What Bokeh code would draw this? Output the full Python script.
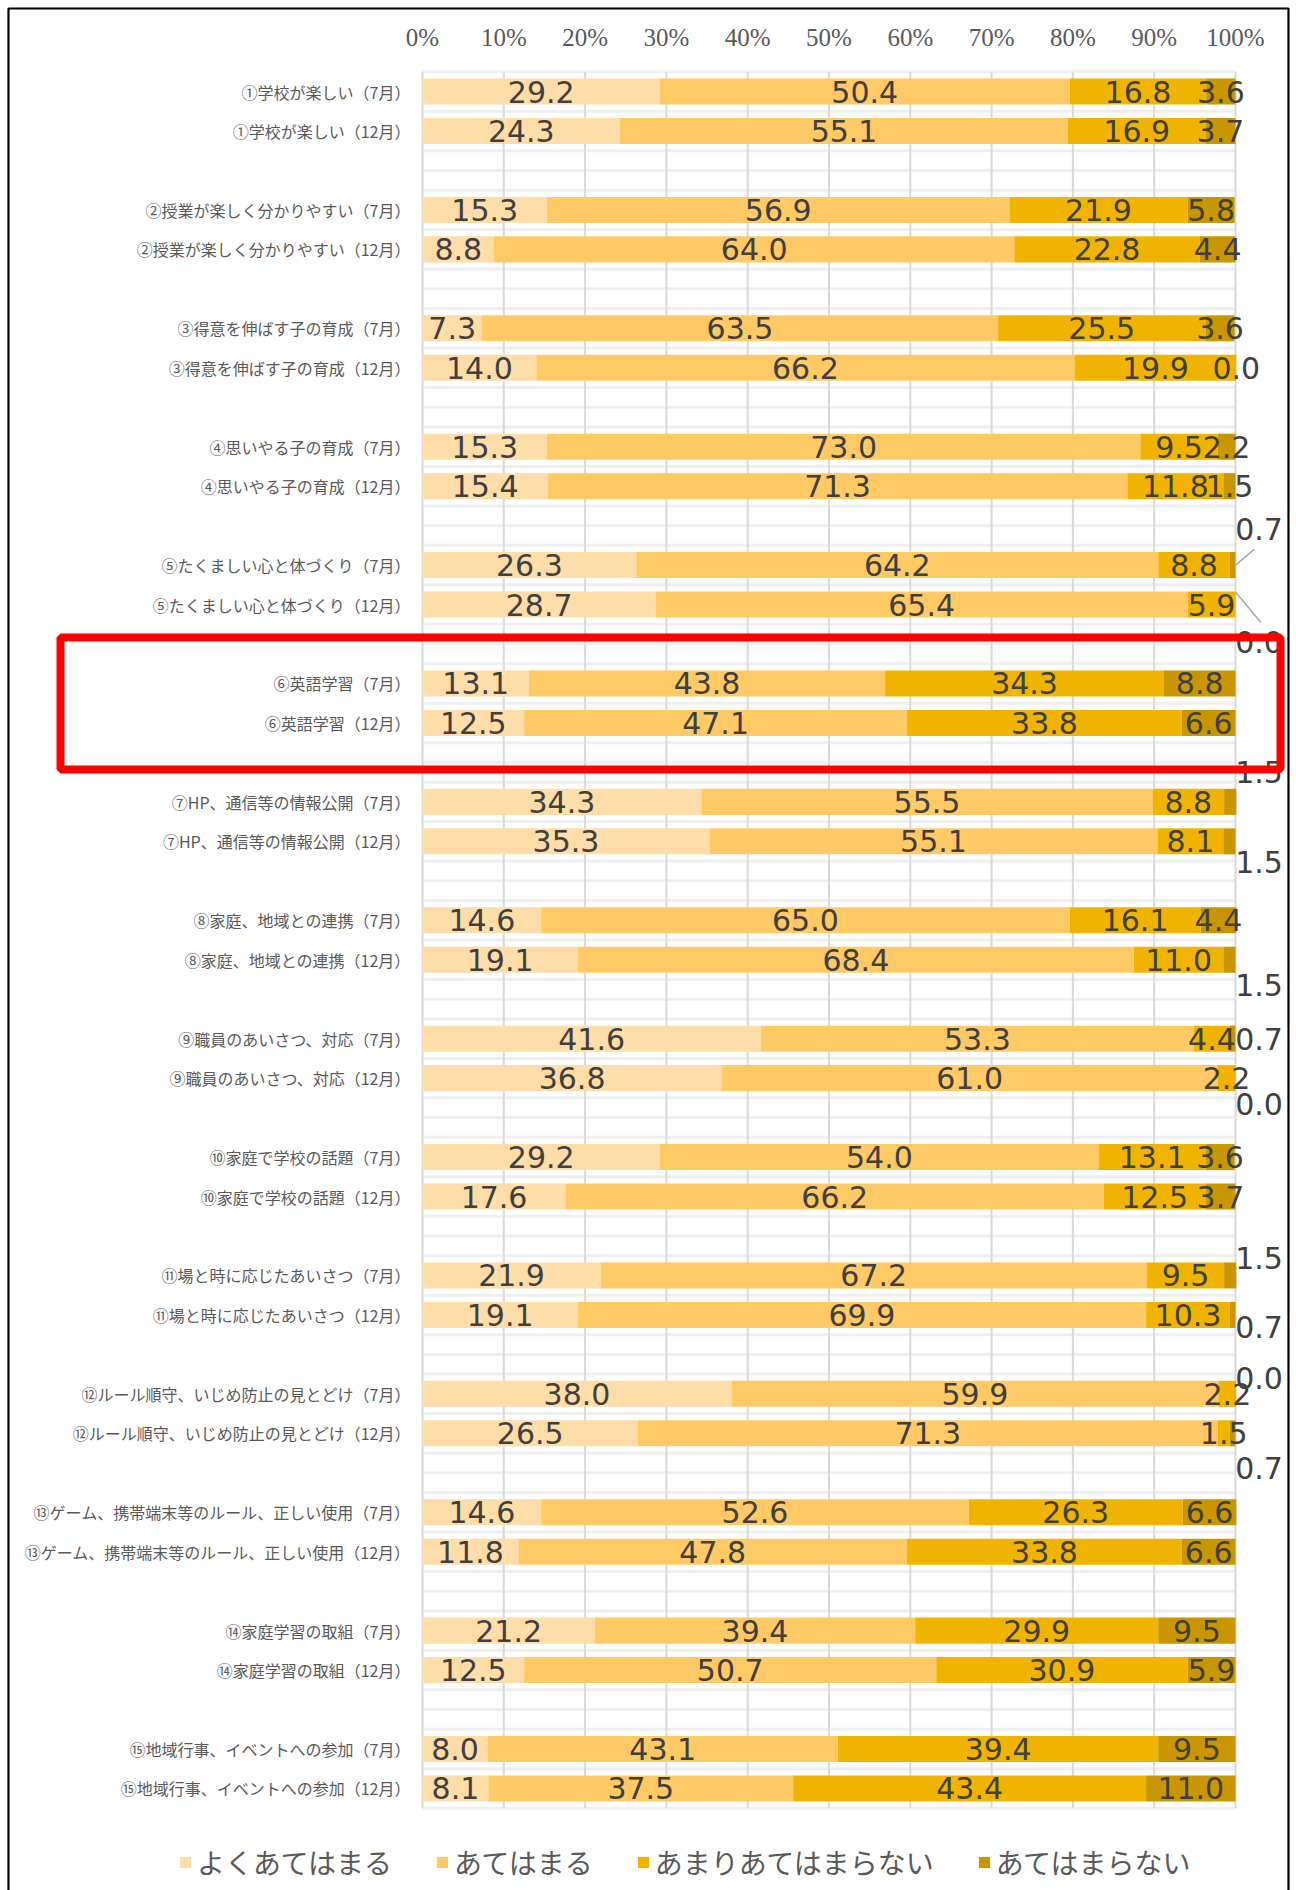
from bokeh.plotting import figure
from bokeh.models import ColumnDataSource, Range1d, Legend, LegendItem
from bokeh.core.properties import value
from bokeh.embed import file_html
from bokeh.resources import INLINE

# ---------------- data ----------------
items = ["①学校が楽しい", "②授業が楽しく分かりやすい", "③得意を伸ばす子の育成", "④思いやる子の育成",
         "⑤たくましい心と体づくり", "⑥英語学習", "⑦HP、通信等の情報公開", "⑧家庭、地域との連携",
         "⑨職員のあいさつ、対応", "⑩家庭で学校の話題", "⑪場と時に応じたあいさつ",
         "⑫ルール順守、いじめ防止の見とどけ", "⑬ゲーム、携帯端末等のルール、正しい使用",
         "⑭家庭学習の取組", "⑮地域行事、イベントへの参加"]
months = ["7月", "12月"]
series_names = ["よくあてはまる", "あてはまる", "あまりあてはまらない", "あてはまらない"]

yoku = [29.2, 24.3, 15.3, 8.8, 7.3, 14.0, 15.3, 15.4, 26.3, 28.7, 13.1, 12.5, 34.3, 35.3, 14.6,
        19.1, 41.6, 36.8, 29.2, 17.6, 21.9, 19.1, 38.0, 26.5, 14.6, 11.8, 21.2, 12.5, 8.0, 8.1]
ate = [50.4, 55.1, 56.9, 64.0, 63.5, 66.2, 73.0, 71.3, 64.2, 65.4, 43.8, 47.1, 55.5, 55.1, 65.0,
       68.4, 53.3, 61.0, 54.0, 66.2, 67.2, 69.9, 59.9, 71.3, 52.6, 47.8, 39.4, 50.7, 43.1, 37.5]
amari = [16.8, 16.9, 21.9, 22.8, 25.5, 19.9, 9.5, 11.8, 8.8, 5.9, 34.3, 33.8, 8.8, 8.1, 16.1,
         11.0, 4.4, 2.2, 13.1, 12.5, 9.5, 10.3, 2.2, 1.5, 26.3, 33.8, 29.9, 30.9, 39.4, 43.4]
nai = [3.6, 3.7, 5.8, 4.4, 3.6, 0.0, 2.2, 1.5, 0.7, 0.0, 8.8, 6.6, 1.5, 1.5, 4.4,
       1.5, 0.7, 0.0, 3.6, 3.7, 1.5, 0.7, 0.0, 0.7, 6.6, 6.6, 9.5, 5.9, 9.5, 11.0]

x_ticks = [0, 10, 20, 30, 40, 50, 60, 70, 80, 90, 100]
x_tick_labels = ["0%", "10%", "20%", "30%", "40%", "50%", "60%", "70%", "80%", "90%", "100%"]

colors = ["#FFDDA8", "#FFC966", "#F0B400", "#C99600"]

# labels of the last segment that were moved beside the bar: (item, month) -> row offset
moved = {(4, 0): -0.91, (4, 1): 0.96, (6, 0): -0.76, (6, 1): 0.53, (7, 1): 0.64,
         (8, 0): 0.0, (8, 1): 0.66, (10, 0): -0.44, (10, 1): 0.31, (11, 0): -0.40,
         (11, 1): 0.87}
moved_x = 102.9

# ---------------- geometry (pixels -> scale) ----------------
W, H = 1296, 1890          # canvas size
PAGE = 0                   # canvas origin on the page
X0_PX, PX_PER_PCT = 422, 8.13      # page x of 0 %, pixels per percent
ROW_TOP_PX, ROW_PX = 71.3, 39.464  # page y of the first row's top, row height


def xd(px):
    return (px - X0_PX) / PX_PER_PCT


def yd(py):
    return (py - ROW_TOP_PX) / ROW_PX - 0.5


n_rows = len(items) * 3 - 1
rows, labels = [], []
for g, it in enumerate(items):
    for m, mo in enumerate(months):
        rows.append(3 * g + m)
        labels.append(f"{it}（{mo}）")

p = figure(width=W, height=H, min_border=0,
           x_range=Range1d(xd(PAGE), xd(PAGE + W)), y_range=Range1d(yd(PAGE + H), yd(PAGE)),
           x_axis_location=None, y_axis_location=None,
           output_backend="svg", toolbar_location=None,
           background_fill_color="white", border_fill_color="white")
p.outline_line_color = None
p.grid.visible = False

# horizontal light separators
bounds = [i - 0.5 for i in range(n_rows + 1)] + [3 * g + 2 for g in range(len(items) - 1)]
p.segment(x0=[0] * len(bounds), x1=[100] * len(bounds), y0=bounds, y1=bounds,
          line_color="#EFEFEF", line_width=3)
# vertical grid
p.segment(x0=x_ticks, x1=x_ticks, y0=[-0.5] * len(x_ticks), y1=[n_rows - 0.5] * len(x_ticks),
          line_color="#D9D9D9", line_width=2)

keys = ["yoku", "ate", "amari", "nai"]
source = ColumnDataSource(dict(y=rows, yoku=yoku, ate=ate, amari=amari, nai=nai))
renderers = p.hbar_stack(keys, y="y", height=0.66, color=colors, line_width=0, source=source)

# x tick labels (top)
p.text(x=x_ticks, y=[yd(37)] * len(x_ticks), text=x_tick_labels, text_align="center",
       text_baseline="middle", text_font=value("Liberation Serif"), text_font_size="25px",
       text_color="#595959")

# category labels (left)
p.text(x=[xd(410)] * len(rows), y=rows, text=labels, text_align="right", text_baseline="middle",
       text_font=value("Noto Sans CJK JP"), text_font_size="16px", text_color="#595959")

# data labels
lx, ly, lt = [], [], []
for i, r in enumerate(rows):
    vals = [yoku[i], ate[i], amari[i], nai[i]]
    cum = 0.0
    g, m = divmod(r, 3)
    for k, v in enumerate(vals):
        cx, cy = cum + v / 2, r
        if k == 3 and (g, m) in moved:
            cx, cy = moved_x, r + moved[(g, m)]
        lx.append(cx)
        ly.append(cy)
        lt.append(f"{v:.1f}")
        cum += v
lsrc = ColumnDataSource(dict(x=lx, y=ly, t=lt))
p.text(x="x", y="y", text="t", source=lsrc, text_align="center", text_baseline="middle",
       text_font=value("DejaVu Sans"), text_font_size="30px", text_color="#404040")

# leader lines for the moved labels of item ⑤
p.segment(x0=[100, 100], y0=[12.0, 12.68], x1=[102.3, 103.1], y1=[11.6, 13.45],
          line_color="#A6A6A6", line_width=1.5)

# highlight box around ⑥
p.quad(left=[xd(60)], right=[xd(1280)], top=[yd(637)], bottom=[yd(769)],
       fill_alpha=0, line_color="#FF0000", line_width=8)
# outer chart border
p.quad(left=[xd(8)], right=[xd(1288)], top=[yd(8)], bottom=[yd(1910)],
       fill_alpha=0, line_color="black", line_width=2.2)

legend = Legend(items=[LegendItem(label=n, renderers=[r]) for n, r in zip(series_names, renderers)],
                orientation="horizontal", location=(178, 8), glyph_width=14, glyph_height=14,
                label_standoff=5, spacing=43, padding=0, margin=0, border_line_color=None,
                background_fill_alpha=0, label_text_font="Noto Sans CJK JP",
                label_text_font_size="28px", label_text_color="#595959")
p.add_layout(legend)

open("out.html", "w").write(file_html(p, INLINE))
